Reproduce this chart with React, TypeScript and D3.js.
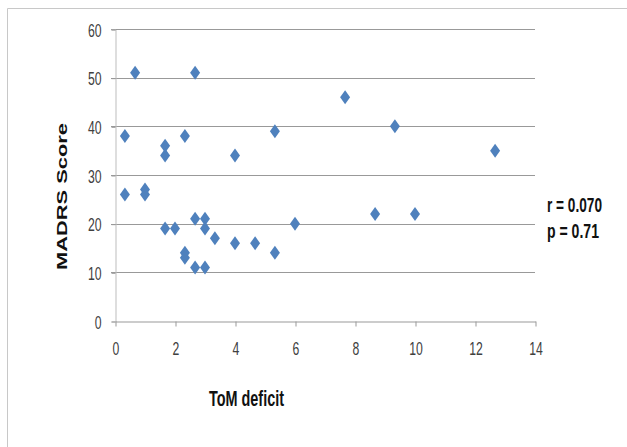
import React, { useRef, useEffect } from 'react';
import * as d3 from 'd3';

// ToM deficit (x) vs MADRS score (y)
const tomDeficit = [
  0.33, 0.67, 0.33, 1, 1, 1.67, 1.67, 1.67, 2, 2.33, 2.67, 2.33, 2.33,
  2.67, 3, 3, 3.33, 2.67, 3, 4, 4, 4.67, 5.33, 5.33, 6, 7.67, 8.67, 9.33, 10, 12.67,
];
const madrsScore = [
  38, 51, 26, 27, 26, 36, 34, 19, 19, 38, 51, 14, 13,
  21, 21, 19, 17, 11, 11, 34, 16, 16, 39, 14, 20, 46, 22, 40, 22, 35,
];
const xTicks = [0, 2, 4, 6, 8, 10, 12, 14];
const yTicks = [0, 10, 20, 30, 40, 50, 60];
const statLines = ['r = 0.070', 'p = 0.71'];

const font = '"Liberation Sans", Arial, sans-serif';
const digitW = 6.8; // the picture is squeezed sideways, so glyphs are narrow

const App: React.FC = () => {
  const svgRef = useRef<SVGSVGElement | null>(null);

  useEffect(() => {
    const svg = d3.select(svgRef.current);
    svg.selectAll('*').remove();

    const width = 627;
    const height = 447;

    svg.append('path')
      .attr('d', `M7.5,${height}V8.5H${width}`)
      .attr('fill', 'none')
      .attr('stroke', '#c8c8c8');

    const x = d3.scaleLinear().domain([0, 14]).range([115, 535]);
    const y = d3.scaleLinear().domain([0, 60]).range([321, 29]);

    const g = svg.append('g');

    // gridlines
    g.selectAll('.grid')
      .data(yTicks.filter(t => t > 0))
      .enter()
      .append('line')
      .attr('x1', x(0) - 4)
      .attr('x2', x(14))
      .attr('y1', d => Math.round(y(d)) + 0.5)
      .attr('y2', d => Math.round(y(d)) + 0.5)
      .attr('stroke', '#999')
      .attr('stroke-width', 1);

    // y axis
    const yAxis = g.append('g')
      .attr('transform', `translate(${x(0) + 0.5},0.5)`)
      .call(d3.axisLeft(y).tickValues(yTicks).tickSize(4).tickPadding(0).tickFormat(d3.format('d')));
    yAxis.select('.domain').attr('stroke', '#bdbdbd');
    yAxis.selectAll('.tick line').attr('stroke', '#999');
    yAxis.selectAll<SVGTextElement, number>('text')
      .attr('x', -14)
      .attr('dy', null)
      .attr('y', 6.5)
      .attr('font-family', font)
      .attr('font-size', 19)
      .attr('fill', '#404040')
      .attr('textLength', d => String(d).length * digitW)
      .attr('lengthAdjust', 'spacingAndGlyphs');

    // x axis
    const xAxis = g.append('g')
      .attr('transform', `translate(0.5,${Math.round(y(0)) + 0.5})`)
      .call(d3.axisBottom(x).tickValues(xTicks).tickSize(5).tickSizeOuter(0));
    xAxis.select('.domain').attr('stroke', '#999');
    xAxis.selectAll('.tick line').attr('stroke', '#999');
    xAxis.selectAll<SVGTextElement, number>('text')
      .attr('dy', null)
      .attr('y', 33)
      .attr('font-family', font)
      .attr('font-size', 19)
      .attr('fill', '#404040')
      .attr('textLength', d => String(d).length * digitW)
      .attr('lengthAdjust', 'spacingAndGlyphs');

    // points
    const diamond = 'M0,-7L5,0L0,7L-5,0Z';
    g.selectAll('.pt')
      .data(tomDeficit.map((v, i) => ({ x: v, y: madrsScore[i] })))
      .enter()
      .append('path')
      .attr('d', diamond)
      .attr('transform', d => `translate(${x(d.x)},${y(d.y)})`)
      .attr('fill', '#4f81bd');

    // axis titles
    svg.append('text')
      .attr('x', 209)
      .attr('y', 406)
      .attr('font-family', font)
      .attr('font-weight', 'bold')
      .attr('font-size', 22)
      .attr('fill', '#111')
      .attr('textLength', 75)
      .attr('lengthAdjust', 'spacingAndGlyphs')
      .text('ToM deficit');

    svg.append('text')
      .attr('transform', 'translate(67,196.5) rotate(-90)')
      .attr('x', -73.5)
      .attr('font-family', font)
      .attr('font-weight', 'bold')
      .attr('font-size', 15)
      .attr('fill', '#111')
      .attr('textLength', 147)
      .attr('lengthAdjust', 'spacingAndGlyphs')
      .text('MADRS Score');

    // stats annotation
    svg.selectAll('.stat')
      .data(statLines)
      .enter()
      .append('text')
      .attr('x', 547)
      .attr('y', (_, i) => 212 + i * 26)
      .attr('font-family', font)
      .attr('font-weight', 'bold')
      .attr('font-size', 19.5)
      .attr('fill', '#111')
      .attr('textLength', (_, i) => (i === 0 ? 55 : 52))
      .attr('lengthAdjust', 'spacingAndGlyphs')
      .text(d => d);
  }, []);

  return (
    <svg
      ref={svgRef}
      width={627}
      height={447}
      style={{ position: 'absolute', left: 0, top: 0, background: '#fff' }}
    />
  );
};

export default App;
